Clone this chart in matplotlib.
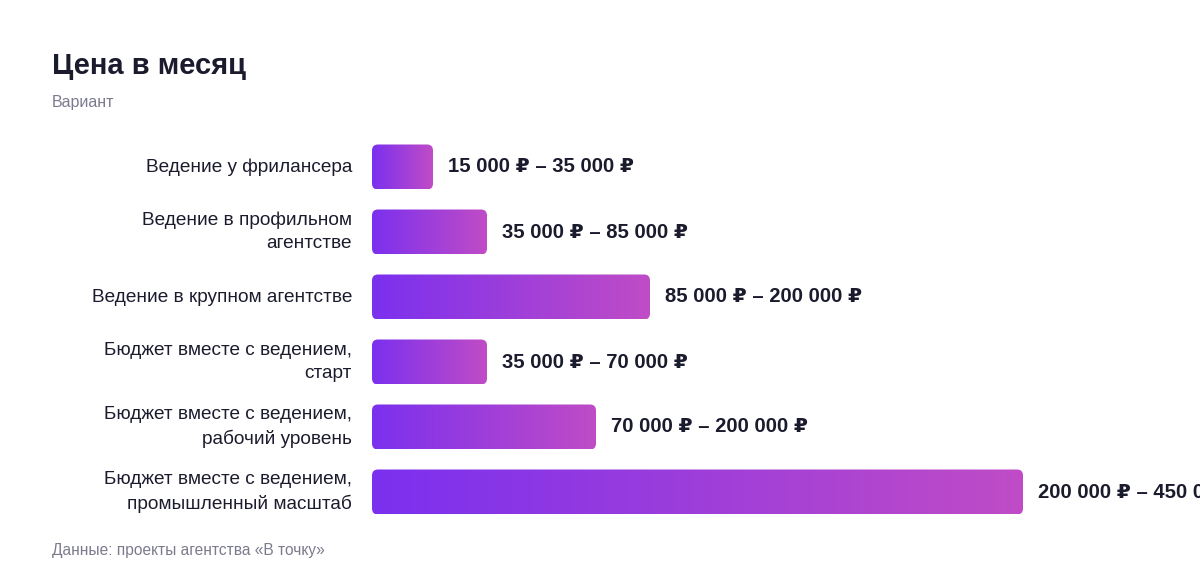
import numpy as np
import matplotlib
matplotlib.use("Agg")
import matplotlib.pyplot as plt
from matplotlib.patches import FancyBboxPatch
from matplotlib.colors import LinearSegmentedColormap

plt.rcParams["font.family"] = ["Liberation Sans", "DejaVu Sans"]

# ------------------------------
# Data
# ------------------------------
categories = [
    "Ведение у фрилансера",
    "Ведение в профильном\nагентстве",
    "Ведение в крупном агентстве",
    "Бюджет вместе с ведением,\nстарт",
    "Бюджет вместе с ведением,\nрабочий уровень",
    "Бюджет вместе с ведением,\nпромышленный масштаб",
]
# relative bar lengths as drawn in the chart
bar_lengths = [61, 115, 278, 115, 224, 651]
price_labels = [
    "15 000 ₽ – 35 000 ₽",
    "35 000 ₽ – 85 000 ₽",
    "85 000 ₽ – 200 000 ₽",
    "35 000 ₽ – 70 000 ₽",
    "70 000 ₽ – 200 000 ₽",
    "200 000 ₽ – 450 000 ₽",
]

title = "Цена в месяц"
subtitle = "Вариант"
footer = "Данные: проекты агентства «В точку»"

DARK = "#1b1b2e"
GREY = "#7b7b8e"
grad = LinearSegmentedColormap.from_list("bar", ["#7b30ef", "#c04cc6"])

W, H = 1200, 584
fig = plt.figure(figsize=(W / 100, H / 100), dpi=100)

# axes: x in pixel-like units starting at bar origin, y in row index
ax_left, ax_top, ax_bottom = 372, 130, 530
first_center, pitch = 167, 65
ax = fig.add_axes([ax_left / W, 1 - ax_bottom / H, (W - ax_left) / W, (ax_bottom - ax_top) / H])
ax.axis("off")

bar_h = 45 / pitch
gradient = np.linspace(0, 1, 256).reshape(1, -1)

for i, (cat, length, lab) in enumerate(zip(categories, bar_lengths, price_labels)):
    patch = FancyBboxPatch(
        (0, i - bar_h / 2), length, bar_h,
        boxstyle="round,pad=0,rounding_size=6",
        mutation_aspect=1 / pitch,
        facecolor="none", edgecolor="none",
    )
    ax.add_patch(patch)
    im = ax.imshow(
        gradient, cmap=grad, aspect="auto",
        extent=(0, length, i + bar_h / 2, i - bar_h / 2),
        interpolation="bicubic",
    )
    im.set_clip_path(patch)

    # the last price label runs past the right edge, as in the original
    ax.text(length + 15, i, lab, ha="left", va="center",
            fontsize=14.6, fontweight="bold", color=DARK)
    ax.text(-20, i, cat, ha="right", va="center", fontsize=13.7,
            color=DARK, linespacing=1.5)

ax.set_xlim(0, W - ax_left)
ax.set_ylim((ax_bottom - first_center) / pitch, (ax_top - first_center) / pitch)

fig.text(52 / W, 1 - 66 / H, title, ha="left", va="center",
         fontsize=21, fontweight="bold", color=DARK)
fig.text(52 / W, 1 - 103 / H, subtitle, ha="left", va="center",
         fontsize=11.5, color=GREY)
fig.text(52 / W, 1 - 551 / H, footer, ha="left", va="center",
         fontsize=11.2, color=GREY)

fig.savefig("out.png", dpi=100, facecolor="white")
